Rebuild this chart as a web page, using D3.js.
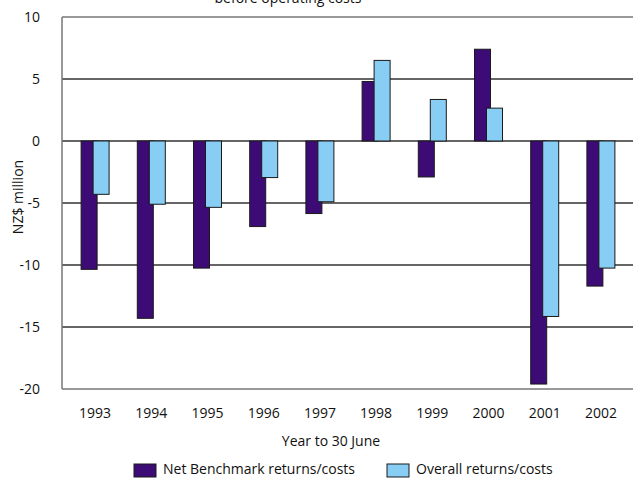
<!DOCTYPE html>
<html>
<head>
<meta charset="utf-8">
<script src="https://cdn.jsdelivr.net/npm/d3@7"></script>
<style>
  html, body { margin: 0; padding: 0; background: #fff; }
  svg { display: block; font-family: "Open Sans", sans-serif; }
</style>
</head>
<body>
<svg id="chart" width="633" height="479"></svg>
<script>
// Returns before operating costs, NZ$ million, year to 30 June
const years = ["1993", "1994", "1995", "1996", "1997", "1998", "1999", "2000", "2001", "2002"];
const netBenchmark = [-10.35, -14.3, -10.25, -6.9, -5.85, 4.8, -2.9, 7.4, -19.6, -11.7];
const overall = [-4.3, -5.1, -5.35, -2.95, -4.9, 6.5, 3.35, 2.65, -14.15, -10.25];
const yTicks = [-20, -15, -10, -5, 0, 5, 10];
const seriesNames = ["Net Benchmark returns/costs", "Overall returns/costs"];
const seriesColors = ["#3C0B75", "#88CDF4"];

const svg = d3.select("#chart");

const x = d3.scaleBand().domain(years).range([67, 629]).padding(0);
const y = d3.scaleLinear().domain([-20, 10]).range([389, 17]);

// Horizontal gridlines
svg.append("g")
  .selectAll("line")
  .data(yTicks)
  .join("line")
  .attr("x1", 62).attr("x2", 633)
  .attr("y1", d => y(d)).attr("y2", d => y(d))
  .attr("stroke", d => (d === 10 || d === -20) ? "#777" : "#333")
  .attr("stroke-width", 1.5);

// Left axis line
svg.append("line")
  .attr("x1", 62).attr("x2", 62)
  .attr("y1", y(10)).attr("y2", y(-20))
  .attr("stroke", "#777").attr("stroke-width", 1.5);

// Y tick labels
svg.append("g")
  .selectAll("text")
  .data(yTicks)
  .join("text")
  .attr("x", 40)
  .attr("y", d => y(d))
  .attr("dy", "0.35em")
  .attr("text-anchor", "end")
  .attr("font-size", 14)
  .attr("fill", "#111")
  .text(d => d);

// Bars: dark series, then light series overlapping slightly on top
const cx = d => x(d) + x.bandwidth() / 2;
const barW = 16;

svg.append("g")
  .selectAll("rect")
  .data(years)
  .join("rect")
  .attr("x", (d) => cx(d) - 14)
  .attr("width", barW)
  .attr("y", (d, i) => y(Math.max(0, netBenchmark[i])))
  .attr("height", (d, i) => Math.abs(y(netBenchmark[i]) - y(0)))
  .attr("fill", seriesColors[0])
  .attr("stroke", "#1a1a1a")
  .attr("stroke-width", 1);

svg.append("g")
  .selectAll("rect")
  .data(years)
  .join("rect")
  .attr("x", (d) => cx(d) - 2)
  .attr("width", barW)
  .attr("y", (d, i) => y(Math.max(0, overall[i])))
  .attr("height", (d, i) => Math.abs(y(overall[i]) - y(0)))
  .attr("fill", seriesColors[1])
  .attr("stroke", "#1a1a1a")
  .attr("stroke-width", 1);

// X tick labels
svg.append("g")
  .selectAll("text")
  .data(years)
  .join("text")
  .attr("x", d => cx(d))
  .attr("y", 418)
  .attr("text-anchor", "middle")
  .attr("font-size", 14)
  .attr("fill", "#111")
  .text(d => d);

// Axis titles
svg.append("text")
  .attr("x", 331).attr("y", 446)
  .attr("text-anchor", "middle")
  .attr("font-size", 14)
  .attr("fill", "#111")
  .text("Year to 30 June");

svg.append("text")
  .attr("transform", "translate(23,197) rotate(-90)")
  .attr("text-anchor", "middle")
  .attr("font-size", 14)
  .attr("fill", "#111")
  .text("NZ$ million");

// Chart title (partly above the top edge)
svg.append("text")
  .attr("x", 288).attr("y", 3)
  .attr("text-anchor", "middle")
  .attr("font-size", 14)
  .attr("fill", "#111")
  .text("before operating costs");

// Legend
const legendX = [134, 387];
const legend = svg.append("g")
  .selectAll("g")
  .data(seriesNames)
  .join("g")
  .attr("transform", (d, i) => `translate(${legendX[i]},464)`);

legend.append("rect")
  .attr("width", 22).attr("height", 13)
  .attr("fill", (d, i) => seriesColors[i])
  .attr("stroke", "#1a1a1a").attr("stroke-width", 1);

legend.append("text")
  .attr("x", 29).attr("y", 10)
  .attr("font-size", 14)
  .attr("fill", "#111")
  .text(d => d);
</script>
</body>
</html>
